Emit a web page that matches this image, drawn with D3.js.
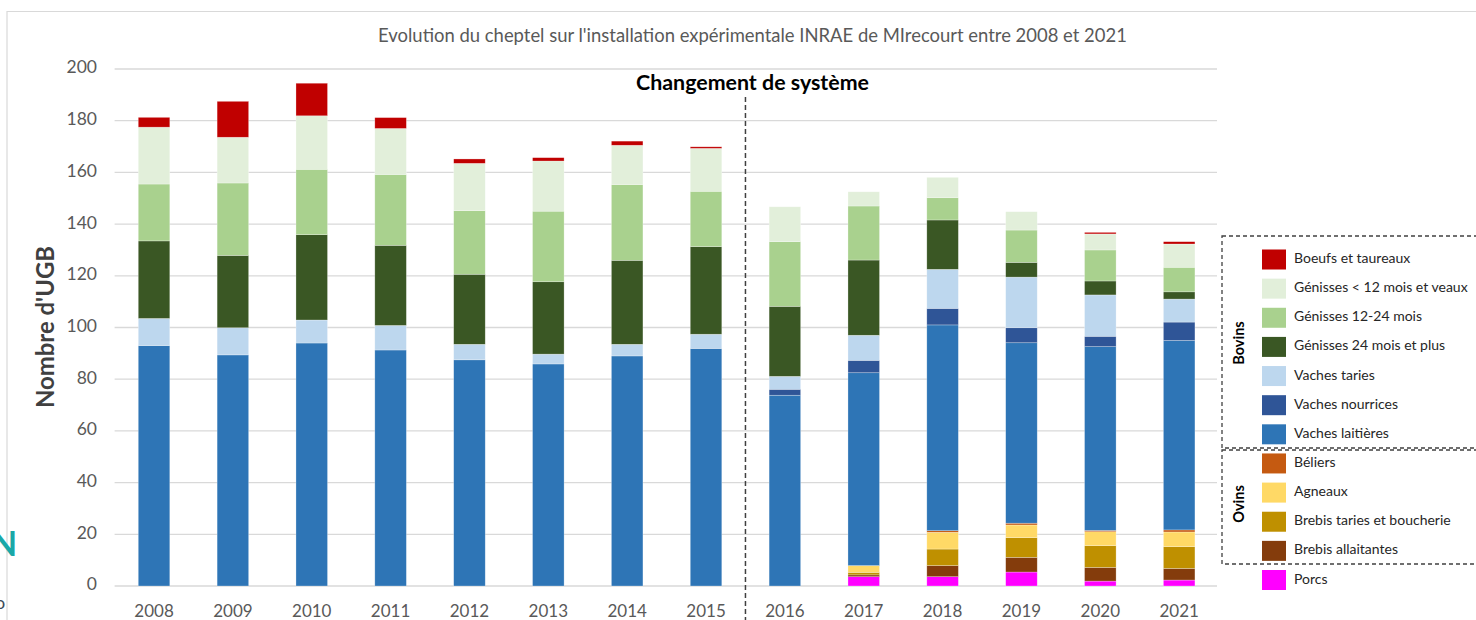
<!DOCTYPE html>
<html>
<head>
<meta charset="utf-8">
<script src="https://cdn.jsdelivr.net/npm/d3@7/dist/d3.min.js"></script>
<style>
  html, body { margin: 0; padding: 0; background: #fff; overflow: hidden; }
  svg { display: block; font-family: Lato, 'Open Sans', sans-serif; }
</style>
</head>
<body>
<svg id="chart" width="1476" height="620"></svg>
<script>
// UGB per year
const years = ['2008', '2009', '2010', '2011', '2012', '2013', '2014', '2015', '2016', '2017', '2018', '2019', '2020', '2021'];
const porcs =            [0, 0, 0, 0, 0, 0, 0, 0, 0, 3.6, 3.6, 5.4, 1.9, 2.3];
const brebisAllaitantes = [0, 0, 0, 0, 0, 0, 0, 0, 0, 0.7, 4.3, 5.7, 5.3, 4.5];
const brebisTaries =     [0, 0, 0, 0, 0, 0, 0, 0, 0, 1.0, 6.4, 7.6, 8.4, 8.4];
const agneaux =          [0, 0, 0, 0, 0, 0, 0, 0, 0, 2.6, 6.5, 4.9, 5.4, 5.7];
const beliers =          [0, 0, 0, 0, 0, 0, 0, 0, 0, 0, 0.6, 0.7, 0.5, 0.8];
const vachesLaitieres =  [93, 89.4, 94, 91.3, 87.5, 85.9, 89, 91.9, 73.8, 74.6, 79.6, 69.8, 71.1, 73.3];
const vachesNourrices =  [0, 0, 0, 0, 0, 0, 0, 0, 2.3, 4.8, 6.4, 5.8, 4, 7.1];
const vachesTaries =     [10.5, 10.5, 8.9, 9.5, 6, 3.8, 4.5, 5.5, 5, 9.7, 15.1, 19.6, 16, 8.9];
const genisses24 =       [30, 28, 33, 31, 27.1, 28, 32.5, 33.9, 27.1, 29.1, 19.1, 5.7, 5.4, 2.8];
const genisses12 =       [22, 28, 25.3, 27.4, 24.6, 27.3, 29.3, 21.4, 25, 20.9, 8.6, 12.5, 12, 9.5];
const genissesJeunes =   [22, 17.7, 20.7, 17.8, 18.3, 19.4, 15.2, 16.6, 13.5, 5.5, 7.9, 7.1, 6.2, 9];
const boeufs =           [3.8, 13.9, 12.6, 4.2, 1.7, 1.3, 1.6, 0.6, 0, 0, 0, 0, 0.6, 0.9];

// stack order, bottom to top
const seriesNames = ['Porcs', 'Brebis allaitantes', 'Brebis taries et boucherie', 'Agneaux', 'Béliers',
  'Vaches laitières', 'Vaches nourrices', 'Vaches taries', 'Génisses 24 mois et plus',
  'Génisses 12-24 mois', 'Génisses < 12 mois et veaux', 'Boeufs et taureaux'];
const seriesValues = [porcs, brebisAllaitantes, brebisTaries, agneaux, beliers,
  vachesLaitieres, vachesNourrices, vachesTaries, genisses24, genisses12, genissesJeunes, boeufs];
const seriesColors = ['#FF00FF', '#843C0C', '#BF9000', '#FFD966', '#C55A11',
  '#2E75B6', '#2F5597', '#BDD7EE', '#3A5724', '#A9D18E', '#E2EFDA', '#C00000'];
const yTicks = [0, 20, 40, 60, 80, 100, 120, 140, 160, 180, 200];

const rows = years.map((year, i) => {
  const row = { year };
  seriesNames.forEach((name, s) => { row[name] = seriesValues[s][i]; });
  return row;
});
const color = d3.scaleOrdinal().domain(seriesNames).range(seriesColors);

const svg = d3.select('#chart');
const x = d3.scaleBand().domain(years).range([114.6, 1218.6]).paddingInner(0.6).paddingOuter(0.3);
const y = d3.scaleLinear().domain([0, 200]).range([586, 69]);

function fitWidth(text, target) {
  const w = text.node().getComputedTextLength();
  const fs = parseFloat(text.attr('font-size'));
  text.attr('font-size', (fs * target / w).toFixed(2));
}

// outer frame of the original slide, with the bits of slide text showing at the left
svg.append('path').attr('d', 'M7,620 V11.5 H1476').attr('fill', 'none').attr('stroke', '#D9D9D9').attr('stroke-width', 1.2);
svg.append('text').attr('x', -9).attr('y', 556).attr('font-size', 34).attr('font-weight', 700).attr('fill', '#1AA8A8').text('N');
svg.append('text').attr('x', -5).attr('y', 609).attr('font-size', 18).attr('fill', '#3C4B5A').text('o');

// gridlines + y axis
svg.append('g').selectAll('line').data(yTicks).join('line')
  .attr('x1', 114.6).attr('x2', 1217).attr('y1', d => y(d)).attr('y2', d => y(d))
  .attr('stroke', '#D9D9D9').attr('stroke-width', 1.3);
svg.append('g').selectAll('text').data(yTicks).join('text')
  .attr('x', 97).attr('y', d => y(d)).attr('text-anchor', 'end').attr('dominant-baseline', 'middle')
  .attr('font-size', 17.5).attr('fill', '#595959').text(d => d);

// bars
const stacked = d3.stack().keys(seriesNames)(rows);
svg.append('g').selectAll('g').data(stacked).join('g').attr('fill', d => color(d.key))
  .selectAll('rect').data(d => d).join('rect')
  .attr('x', d => x(d.data.year)).attr('width', x.bandwidth())
  .attr('y', d => y(d[1])).attr('height', d => y(d[0]) - y(d[1]))
  .attr('stroke', 'rgba(255,255,255,0.45)').attr('stroke-width', 0.6);

// x labels
svg.append('g').selectAll('text').data(years).join('text')
  .attr('x', d => x(d) + x.bandwidth() / 2).attr('y', 617).attr('text-anchor', 'middle')
  .attr('font-size', 17).attr('fill', '#595959').text(d => d);

// titles
const title = svg.append('text').attr('x', 752.5).attr('y', 42).attr('text-anchor', 'middle')
  .attr('font-size', 15).attr('fill', '#595959')
  .text("Evolution du cheptel sur l'installation expérimentale INRAE de MIrecourt entre 2008 et 2021");
fitWidth(title, 749);
const change = svg.append('text').attr('x', 752.5).attr('y', 90).attr('text-anchor', 'middle')
  .attr('font-size', 19).attr('font-weight', 700).attr('fill', '#000').text('Changement de système');
fitWidth(change, 233);
const yTitle = svg.append('text').attr('transform', 'translate(54,327) rotate(-90)').attr('text-anchor', 'middle')
  .attr('font-size', 21).attr('font-weight', 700).attr('fill', '#404040').text("Nombre d'UGB");
fitWidth(yTitle, 162);

// system change marker, between 2015 and 2016
const changeX = (x('2015') + x.bandwidth() + x('2016')) / 2;
svg.append('line').attr('x1', changeX).attr('x2', changeX).attr('y1', 97).attr('y2', 620)
  .attr('stroke', '#404040').attr('stroke-width', 1.5).attr('stroke-dasharray', '5,3');

// legend
const legendNames = seriesNames.slice().reverse();
const ly = d3.scalePoint().domain(legendNames).range([259.5, 580]);
svg.append('rect').attr('x', 1222).attr('y', 236).attr('width', 300).attr('height', 212)
  .attr('fill', 'none').attr('stroke', '#404040').attr('stroke-width', 1.3).attr('stroke-dasharray', '4,3');
svg.append('rect').attr('x', 1222).attr('y', 450).attr('width', 300).attr('height', 114)
  .attr('fill', 'none').attr('stroke', '#404040').attr('stroke-width', 1.3).attr('stroke-dasharray', '4,3');
const item = svg.append('g').selectAll('g').data(legendNames).join('g')
  .attr('transform', d => `translate(1262,${ly(d)})`);
item.append('rect').attr('x', 0).attr('y', -10).attr('width', 24).attr('height', 20).attr('fill', d => color(d));
item.append('text').attr('x', 32).attr('y', 0).attr('dominant-baseline', 'middle')
  .attr('font-size', 14).attr('fill', '#262626').text(d => d);
svg.append('text').attr('transform', 'translate(1244,343) rotate(-90)').attr('text-anchor', 'middle')
  .attr('font-size', 14.5).attr('font-weight', 700).attr('fill', '#000').text('Bovins');
svg.append('text').attr('transform', 'translate(1244,504) rotate(-90)').attr('text-anchor', 'middle')
  .attr('font-size', 14.5).attr('font-weight', 700).attr('fill', '#000').text('Ovins');
</script>
</body>
</html>
